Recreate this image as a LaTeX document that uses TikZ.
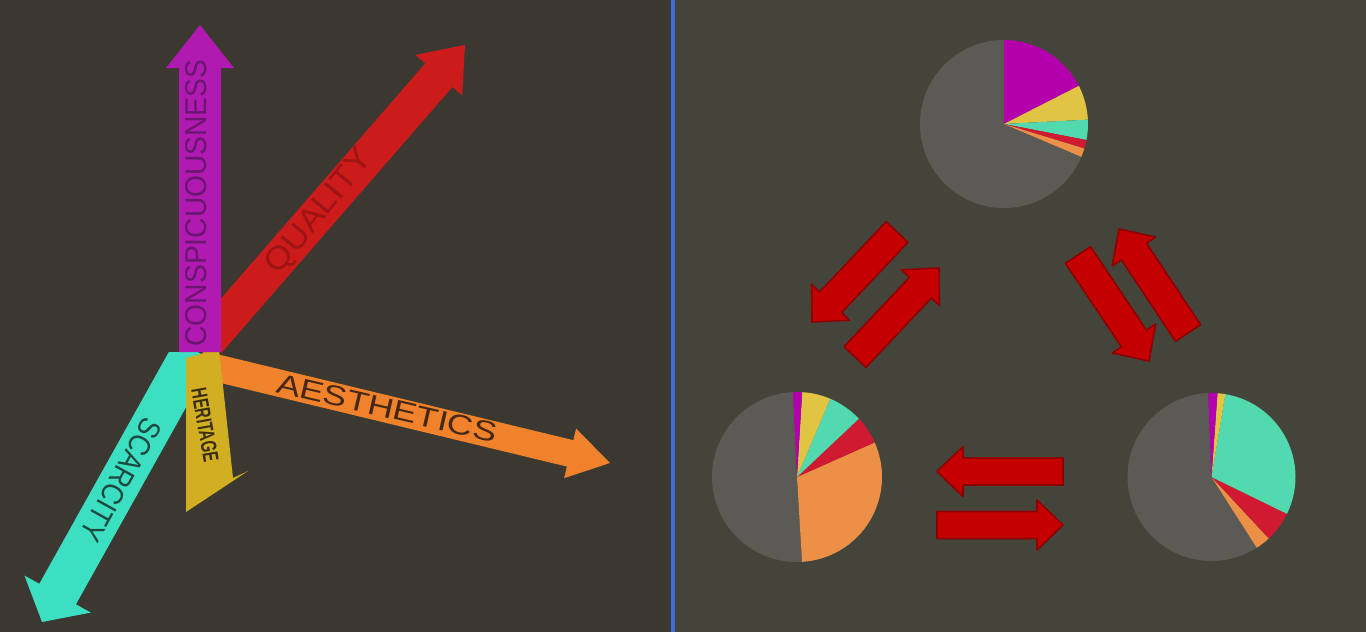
\documentclass[tikz,border=0pt]{standalone}
\usepackage{fontspec}
\setmainfont{Liberation Sans}
\definecolor{bgL}{HTML}{3A3830}
\definecolor{bgR}{HTML}{45443B}
\definecolor{divblue}{HTML}{3A6FD8}
\definecolor{magA}{HTML}{B01AB0}
\definecolor{magT}{HTML}{6A1670}
\definecolor{redA}{HTML}{CC1B1B}
\definecolor{redT}{HTML}{9E1414}
\definecolor{oraA}{HTML}{F0822C}
\definecolor{oraT}{HTML}{452814}
\definecolor{cyaA}{HTML}{3DDFC2}
\definecolor{cyaT}{HTML}{1B4A40}
\definecolor{yelA}{HTML}{D2AE22}
\definecolor{yelT}{HTML}{3A2E0E}
\definecolor{pieGray}{HTML}{5B5A55}
\definecolor{pieMag}{HTML}{B400AC}
\definecolor{pieYel}{HTML}{E2C445}
\definecolor{pieCya}{HTML}{52D9B0}
\definecolor{pieRed}{HTML}{D01A32}
\definecolor{pieOra}{HTML}{EC9048}
\definecolor{dRed}{HTML}{C40000}
\definecolor{dRedLine}{HTML}{8E0000}
% #1 style, (#2,#3) tail centre, (#4,#5) tip, #6 half shaft, #7 half head, #8 head length
\newcommand{\fatarrow}[8]{%
  \pgfmathsetmacro{\faang}{atan2(-(#5-#3),#4-#2)}%
  \pgfmathsetmacro{\falen}{veclen(#4-#2,#5-#3)}%
  \pgfmathsetmacro{\fab}{\falen-#8}%
  \begin{scope}[shift={(#2,#3)},rotate=\faang]
    \path[#1] (0,-#6) -- (\fab,-#6) -- (\fab,-#7) -- (\falen,0) -- (\fab,#7) -- (\fab,#6) -- (0,#6) -- cycle;
  \end{scope}}
% pie slice: centre (#1,#2), radius #3, canvas angles #4..#5, colour #6
\newcommand{\pieslice}[6]{\fill[#6] (#1,#2) -- ++(#4:#3pt) arc[start angle=#4, end angle=#5, radius=#3pt] -- cycle;}
\tikzset{
  lbl/.style={inner sep=0pt, font=\fontsize{#1}{#1}\selectfont},
  swap/.style={fill=dRed, draw=dRedLine, line width=1.6pt, line join=round}
}
\begin{document}
\begin{tikzpicture}[x=1pt,y=-1pt]
\useasboundingbox (0,0) rectangle (1366,632);
% backgrounds
\fill[bgL] (0,0) rectangle (671,632);
\fill[bgR] (675,0) rectangle (1366,632);
\fill[divblue] (671,0) rectangle (675,632);
% left panel: axes
\begin{scope}
  \clip (0,352) rectangle (671,632);
  \fatarrow{fill=cyaA}{194}{350}{42}{622}{21}{38}{32}
\end{scope}
\fatarrow{fill=oraA}{200}{364}{610}{463}{13.6}{25.5}{41}
\fatarrow{fill=redA}{208}{341}{465}{45}{18}{31}{40}
\fill[yelA] (186,358) -- (219,349) -- (233,478) -- (248,471) -- (186,512) -- cycle;
\fatarrow{fill=magA}{200}{352}{200}{25}{21}{34}{43}
\node[lbl=30, text=magT, rotate=90, xscale=0.94] (tcons) at (196,203) {CONSPICUOUSNESS};
\node[lbl=32, text=redT, rotate=51, xscale=1.1] (tqual) at (320,212) {QUALITY};
\node[lbl=28, text=oraT, rotate=-13, xscale=1.28] (taest) at (387,408) {AESTHETICS};
\node[lbl=31, text=cyaT, rotate=-119, xscale=0.86] (tscar) at (121,480) {SCARCITY};
\node[lbl=22, text=yelT, rotate=-80, xscale=0.66, font=\fontsize{22}{22}\selectfont\bfseries] (therit) at (205,425) {HERITAGE};
% right panel: pies
\pieslice{1004}{124}{84}{90}{337}{pieGray}
\pieslice{1004}{124}{84}{27}{90}{pieMag}
\pieslice{1004}{124}{84}{3}{27}{pieYel}
\pieslice{1004}{124}{84}{-11}{3}{pieCya}
\pieslice{1004}{124}{84}{-17}{-11}{pieRed}
\pieslice{1004}{124}{84}{-23}{-17}{pieOra}
%
\pieslice{797}{477}{85}{92.7}{273.4}{pieGray}
\pieslice{797}{477}{85}{-86.6}{24}{pieOra}
\pieslice{797}{477}{85}{24}{43.3}{pieRed}
\pieslice{797}{477}{85}{43.3}{67}{pieCya}
\pieslice{797}{477}{85}{67}{86.5}{pieYel}
\pieslice{797}{477}{85}{86.5}{92.7}{pieMag}
%
\pieslice{1211.5}{477}{84}{92.3}{302.6}{pieGray}
\pieslice{1211.5}{477}{84}{-57.4}{-47}{pieOra}
\pieslice{1211.5}{477}{84}{-47}{-26}{pieRed}
\pieslice{1211.5}{477}{84}{-26}{80.5}{pieCya}
\pieslice{1211.5}{477}{84}{80.5}{85.9}{pieYel}
\pieslice{1211.5}{477}{84}{85.9}{92.3}{pieMag}
% exchange arrows
\fatarrow{swap}{897}{232}{812}{322}{15}{26}{27}
\fatarrow{swap}{855}{357}{939}{268}{15}{26}{27}
\fatarrow{swap}{1078}{255}{1149}{361}{15}{26}{27}
\fatarrow{swap}{1188}{333}{1119}{229}{15}{26}{27}
\fatarrow{swap}{1063}{471.5}{937}{471.5}{13.5}{25}{26}
\fatarrow{swap}{937}{525}{1063}{525}{13.5}{25}{26}
\end{tikzpicture}
\end{document}
